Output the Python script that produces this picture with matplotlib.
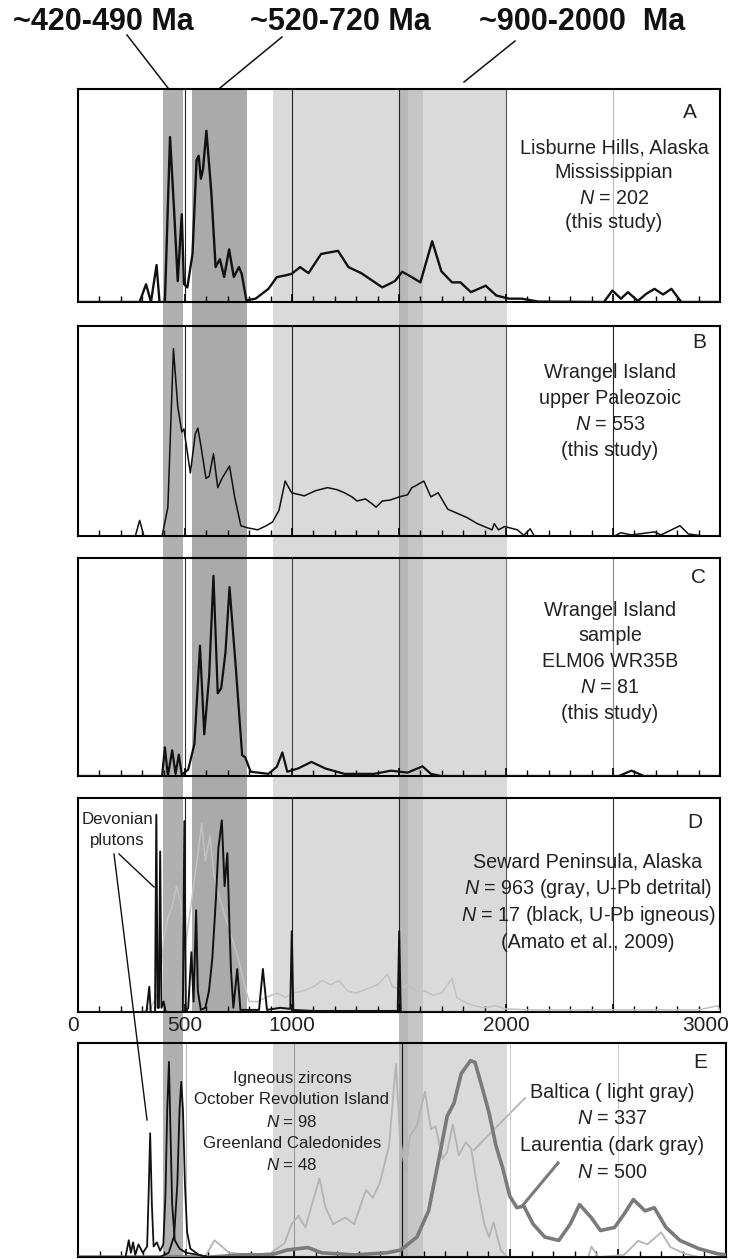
import matplotlib
matplotlib.use("Agg")
import matplotlib.pyplot as plt
import matplotlib.transforms as mtransforms
from matplotlib.lines import Line2D
from matplotlib.patches import Rectangle
from matplotlib.ticker import FixedLocator, FixedFormatter, MultipleLocator

plt.rcParams['font.family'] = ['Liberation Sans', 'DejaVu Sans']
plt.rcParams['mathtext.fontset'] = 'custom'
plt.rcParams['mathtext.it'] = 'Liberation Sans:italic'
plt.rcParams['mathtext.rm'] = 'Liberation Sans'

# ---------------- data (age in Ma, relative probability 0-1) ----------------
# A: Lisburne Hills, Alaska, Mississippian
a_age = [0, 288, 318, 341, 367, 381, 406, 430, 450, 466, 485, 495, 511, 535, 554, 564, 574,
         584, 600, 623, 643, 663, 683, 706, 728, 752, 765, 787, 830, 890, 929, 968, 998,
         1038, 1077, 1136, 1215, 1264, 1324, 1422, 1481, 1515, 1560, 1600, 1655, 1698,
         1748, 1787, 1836, 1905, 1955, 2014, 2073, 2152, 2458, 2497, 2537, 2570, 2616,
         2655, 2694, 2734, 2773, 2819, 3000]
a_prob = [0, 0, 0.085, 0, 0.177, 0, 0, 0.79, 0.42, 0.10, 0.42, 0.086, 0.07, 0.23, 0.68, 0.70,
          0.59, 0.635, 0.82, 0.525, 0.167, 0.205, 0.12, 0.252, 0.12, 0.167, 0.135, 0.008,
          0.016, 0.063, 0.119, 0.127, 0.135, 0.167, 0.138, 0.23, 0.245, 0.167, 0.138, 0.07,
          0.10, 0.145, 0.119, 0.094, 0.291, 0.147, 0.094, 0.094, 0.047, 0.078, 0.031, 0.016,
          0.016, 0.002, 0, 0.055, 0.016, 0.047, 0.005, 0.039, 0.063, 0.036, 0.063, 0, 0]

# B: Wrangel Island, upper Paleozoic
b_age = [0, 268, 288, 308, 393, 420, 446, 466, 485, 495, 525, 548, 560, 574, 598, 613, 633,
         653, 673, 708, 732, 761, 791, 840, 880, 909, 939, 968, 998, 1057, 1110, 1166, 1210,
         1245, 1280, 1304, 1343, 1370, 1393, 1422, 1460, 1501, 1540, 1560, 1576, 1616, 1649,
         1683, 1728, 1777, 1817, 1866, 1935, 1945, 1965, 1994, 2053, 2083, 2113, 2132, 2507,
         2537, 2586, 2694, 2724, 2813, 2852, 2921, 3000]
b_prob = [0, 0, 0.076, 0, 0, 0.14, 0.91, 0.63, 0.505, 0.52, 0.306, 0.495, 0.524, 0.44, 0.28,
          0.29, 0.40, 0.235, 0.28, 0.34, 0.19, 0.05, 0.04, 0.03, 0.05, 0.068, 0.124, 0.267,
          0.21, 0.195, 0.22, 0.235, 0.225, 0.21, 0.19, 0.17, 0.18, 0.16, 0.14, 0.17, 0.175,
          0.19, 0.20, 0.235, 0.243, 0.267, 0.19, 0.21, 0.13, 0.108, 0.09, 0.06, 0.03, 0.06,
          0.03, 0.046, 0.03, 0.003, 0.035, 0, 0, 0.016, 0.005, 0.02, 0.005, 0.05, 0.01, 0, 0]

# C: Wrangel Island sample ELM06 WR35B
c_age = [0, 393, 406, 420, 440, 456, 471, 485, 515, 544, 570, 590, 613, 633, 653, 669, 689,
         708, 738, 767, 781, 807, 890, 929, 955, 978, 1028, 1091, 1156, 1245, 1383, 1462,
         1540, 1610, 1649, 1698, 2527, 2586, 2645, 3000]
c_prob = [0, 0, 0.134, 0, 0.12, 0.01, 0.10, 0.006, 0.03, 0.15, 0.609, 0.195, 0.47, 0.937,
          0.387, 0.41, 0.577, 0.884, 0.50, 0.097, 0.088, 0.02, 0.01, 0.043, 0.11, 0.02,
          0.035, 0.066, 0.035, 0.01, 0.01, 0.025, 0.016, 0.045, 0.01, 0, 0, 0.025, 0, 0]

# D: Seward Peninsula, detrital (gray)
d_det_age = [0, 300, 340, 380, 400, 420, 440, 460, 480, 500, 520, 540, 560, 578, 595, 617,
             635, 660, 690, 720, 750, 780, 800, 840, 880, 930, 970, 1000, 1050, 1100, 1140,
             1180, 1220, 1260, 1300, 1350, 1400, 1446, 1470, 1500, 1540, 1580, 1620, 1660,
             1700, 1747, 1770, 1800, 1850, 1900, 1950, 2000, 2100, 2500, 2700, 2900, 2990, 3000]
d_det_prob = [0, 0, 0.02, 0.10, 0.35, 0.45, 0.50, 0.60, 0.52, 0.30, 0.45, 0.60, 0.75, 0.90,
              0.72, 0.84, 0.65, 0.55, 0.45, 0.35, 0.25, 0.12, 0.05, 0.05, 0.07, 0.09, 0.07,
              0.09, 0.10, 0.12, 0.15, 0.13, 0.15, 0.10, 0.09, 0.11, 0.13, 0.18, 0.12, 0.11,
              0.13, 0.10, 0.10, 0.08, 0.09, 0.16, 0.07, 0.05, 0.03, 0.02, 0.03, 0.015, 0.01,
              0.01, 0.01, 0.01, 0.03, 0]

# D: Seward Peninsula, igneous (black)
d_ign_age = [0, 320, 333, 340, 360, 366, 372, 378, 384, 390, 400, 410, 490, 497, 504, 515,
             530, 540, 552, 560, 574, 595, 612, 628, 645, 656, 672, 685, 698, 708, 715, 726,
             744, 759, 846, 864, 883, 944, 992, 999, 1006, 1100, 1494, 1501, 1508, 1600, 3000]
d_ign_prob = [0, 0, 0.12, 0, 0, 0.94, 0.02, 0.02, 0.765, 0.02, 0.05, 0, 0, 0.91, 0, 0.02,
              0.285, 0.05, 0.485, 0.10, 0.01, 0.02, 0.10, 0.26, 0.55, 0.78, 0.913, 0.60,
              0.757, 0.40, 0.197, 0.02, 0.205, 0.01, 0.01, 0.205, 0.01, 0.02, 0.015, 0.385,
              0.01, 0.005, 0.005, 0.385, 0, 0, 0]

# E: October Revolution Island igneous zircons (black)
e_ori_age = [0, 220, 235, 245, 255, 265, 280, 300, 320, 327, 334, 342, 350, 365, 380, 395,
             405, 413, 421, 428, 436, 448, 470, 500, 560, 600, 3000]
e_ori_prob = [0, 0, 0.08, 0.02, 0.07, 0.01, 0.06, 0.02, 0.05, 0.30, 0.59, 0.25, 0.05, 0.07,
              0.03, 0.06, 0.30, 0.70, 0.93, 0.60, 0.25, 0.08, 0.04, 0.02, 0.01, 0, 0]

# E: Greenland Caledonides (black)
e_grc_age = [0, 380, 420, 445, 460, 470, 478, 486, 495, 505, 520, 560, 600, 3000]
e_grc_prob = [0, 0, 0.02, 0.10, 0.35, 0.70, 0.835, 0.70, 0.35, 0.12, 0.04, 0.01, 0, 0]

# E: Baltica (light gray)
e_bal_age = [0, 588, 632, 700, 810, 893, 956, 989, 1021, 1053, 1081, 1118, 1146, 1182, 1236,
             1279, 1333, 1365, 1397, 1440, 1472, 1490, 1515, 1537, 1569, 1606, 1634, 1655,
             1688, 1709, 1735, 1763, 1795, 1821, 1849, 1881, 1903, 1924, 1957, 1989, 2362,
             2377, 2409, 2528, 2593, 2636, 2700, 2743, 2808, 2872, 3000]
e_bal_prob = [0, 0, 0.08, 0.02, 0.01, 0.02, 0.065, 0.157, 0.196, 0.141, 0.243, 0.375, 0.235,
              0.157, 0.188, 0.157, 0.32, 0.282, 0.352, 0.53, 0.92, 0.578, 0.406, 0.578, 0.624,
              0.788, 0.609, 0.624, 0.469, 0.50, 0.632, 0.485, 0.547, 0.516, 0.329, 0.157,
              0.095, 0.165, 0.033, 0, 0, 0.05, 0, 0.01, 0.077, 0.06, 0.118, 0.047, 0.016, 0, 0]

# E: Laurentia (dark gray)
e_lau_age = [0, 611, 763, 893, 967, 1064, 1128, 1279, 1430, 1494, 1569, 1623, 1677, 1709,
             1741, 1774, 1817, 1838, 1870, 1903, 1935, 1967, 1999, 2032, 2064, 2107, 2161,
             2226, 2279, 2322, 2376, 2419, 2484, 2528, 2571, 2625, 2668, 2722, 2787, 2873,
             2959, 3000]
e_lau_prob = [0, 0, 0.01, 0.01, 0.033, 0.045, 0.02, 0.01, 0.02, 0.033, 0.095, 0.22, 0.50,
              0.671, 0.734, 0.874, 0.936, 0.928, 0.812, 0.687, 0.53, 0.421, 0.29, 0.235,
              0.243, 0.157, 0.095, 0.079, 0.157, 0.25, 0.188, 0.126, 0.141, 0.204, 0.274,
              0.22, 0.235, 0.141, 0.079, 0.04, 0.016, 0.01]

# Highlighted age windows (Ma)
win_early = (395, 490)
win_mid = (535, 790)
win_broad = (910, 2005)
win_meso = (1500, 1610)

tick_values = [0, 500, 1000, 1500, 2000, 2500, 3000]
tick_labels = ['0', '500', '1000', '', '2000', '', '3000']

# ---------------- figure layout (pixel helpers) ----------------
W, H = 732, 1260
fig = plt.figure(figsize=(W / 100, H / 100), dpi=100)
fig.patch.set_facecolor('white')


def box(left, right, top, bottom):
    return [left / W, 1 - bottom / H, (right - left) / W, (bottom - top) / H]


def ftext(x, y, s, **kw):
    fig.text(x / W, 1 - y / H, s, **kw)


def fline(x0, y0, x1, y1, **kw):
    fig.add_artist(Line2D([x0 / W, x1 / W], [1 - y0 / H, 1 - y1 / H],
                          transform=fig.transFigure, **kw))


# Background layer holding the shaded age windows across all panels
bg = fig.add_axes([0, 0, 1, 1], zorder=0)
bg.set_xlim(-78 / 0.214, (W - 78) / 0.214)
bg.set_ylim(H, 0)
bg.axis('off')


def band(span, top, bottom, color):
    bg.add_patch(Rectangle((span[0], top), span[1] - span[0], bottom - top,
                           facecolor=color, edgecolor='none'))


band(win_broad, 89, 1012, '#dadada')
band(win_broad, 1043, 1257, '#dadada')
band(win_early, 89, 1257, '#b0b0b0')
band(win_mid, 89, 1012, '#aaaaaa')
band((win_meso[0], win_meso[0] + 40), 89, 1257, '#b8b8b8')
band((win_meso[0] + 40, win_meso[1]), 89, 1257, '#c6c6c6')

panels = [
    ('A', box(78, 720, 89, 302)),
    ('B', box(78, 720, 326, 536)),
    ('C', box(78, 720, 558, 776)),
    ('D', box(78, 720, 798, 1012)),
    ('E', box(78, 726, 1043, 1257)),
]
grid_colors = {
    'A': ['#222222', '#222222', '#222222', '#555555', '#bbbbbb'],
    'B': ['#222222', '#222222', '#222222', '#555555', '#222222'],
    'C': ['#333333', '#444444', '#666666', '#777777', '#888888'],
    'D': ['#222222', '#222222', '#222222', '#555555', '#333333'],
    'E': ['#bbbbbb', '#999999', '#111111', '#cccccc', '#cccccc'],
}

axes = {}
for name, pos in panels:
    ax = fig.add_axes(pos, zorder=2)
    ax.set_facecolor('none')
    ax.set_xlim(0, 3000)
    ax.set_ylim(0, 1.02)
    for xv, col in zip([500, 1000, 1500, 2000, 2500], grid_colors[name]):
        ax.axvline(xv, color=col, lw=0.8, zorder=1)
    for sp in ax.spines.values():
        sp.set_linewidth(1.5)
        sp.set_color('black')
    ax.yaxis.set_visible(False)
    ax.xaxis.set_major_locator(FixedLocator(tick_values))
    ax.xaxis.set_minor_locator(MultipleLocator(100))
    ax.tick_params(axis='x', which='major', direction='in', length=6, width=1.2,
                   labelsize=15, pad=3, top=False, labelcolor='#222222')
    ax.tick_params(axis='x', which='minor', direction='in', length=4, width=1, top=False)
    if name == 'D':
        ax.xaxis.set_major_formatter(FixedFormatter(tick_labels))
    else:
        ax.tick_params(axis='x', which='major', labelbottom=False)
    axes[name] = ax

# keep the end labels of the shared age axis inside the figure
fig.canvas.draw()
d_labels = axes['D'].get_xticklabels()
d_labels[0].set_transform(d_labels[0].get_transform() +
                          mtransforms.ScaledTranslation(-5 / 100, 0, fig.dpi_scale_trans))
d_labels[-1].set_horizontalalignment('right')
d_labels[-1].set_transform(d_labels[-1].get_transform() +
                           mtransforms.ScaledTranslation(9 / 100, 0, fig.dpi_scale_trans))

axes['A'].plot(a_age, a_prob, color='#111111', lw=1.7, zorder=3)
axes['B'].plot(b_age, b_prob, color='#111111', lw=1.1, zorder=3)
axes['C'].plot(c_age, c_prob, color='#111111', lw=1.6, zorder=3)
axes['D'].plot(d_det_age, d_det_prob, color='#c2c2c2', lw=1.1, zorder=3)
axes['D'].plot(d_ign_age, d_ign_prob, color='#111111', lw=1.4, zorder=4)
axes['E'].plot(e_bal_age, e_bal_prob, color='#b4b4b4', lw=1.3, zorder=3)
axes['E'].plot(e_lau_age, e_lau_prob, color='#7a7a7a', lw=2.6, zorder=3)
axes['E'].plot(e_ori_age, e_ori_prob, color='#111111', lw=1.3, zorder=4)
axes['E'].plot(e_grc_age, e_grc_prob, color='#111111', lw=1.3, zorder=4)

# ---------------- annotations ----------------
tkw = dict(ha='center', va='center', color='#222222', fontsize=14.2, zorder=5)
Nit = r'$\mathit{N}$'

for lbl, (x, y) in zip('ABCDE', [(690, 113), (699, 343), (699, 578), (695, 822), (700, 1063)]):
    ftext(x, y, lbl, **dict(tkw, fontsize=15))

for i, s in enumerate(['Lisburne Hills, Alaska', 'Mississippian', Nit + ' = 202', '(this study)']):
    ftext(614, 148 + i * 25, s, **tkw)
for i, s in enumerate(['Wrangel Island', 'upper Paleozoic', Nit + ' = 553', '(this study)']):
    ftext(610, 372 + i * 26, s, **tkw)
for i, s in enumerate(['Wrangel Island', 'sample', 'ELM06 WR35B', Nit + ' = 81', '(this study)']):
    ftext(610, 610 + i * 25.8, s, **tkw)
for i, s in enumerate(['Seward Peninsula, Alaska', Nit + ' = 963 (gray, U-Pb detrital)',
                       Nit + ' = 17 (black, U-Pb igneous)', '(Amato et al., 2009)']):
    ftext(588, 862 + i * 26.8, s, **tkw)

skw = dict(tkw, fontsize=12.2)
ftext(117, 820, 'Devonian', **skw)
ftext(117, 841, 'plutons', **skw)
fline(119, 854, 154, 887, color='#111111', lw=1)
fline(114, 854, 147, 1120, color='#111111', lw=1)

for i, s in enumerate(['Igneous zircons', 'October Revolution Island', Nit + ' = 98',
                       'Greenland Caledonides', Nit + ' = 48']):
    ftext(292, 1078 + i * 21.8, s, **skw)
for i, s in enumerate(['Baltica ( light gray)', Nit + ' = 337', 'Laurentia (dark gray)',
                       Nit + ' = 500']):
    ftext(612, 1092 + i * 26.7, s, **tkw)
fline(525, 1098, 474, 1150, color='#b4b4b4', lw=1.3)
fline(558, 1163, 523, 1205, color='#7a7a7a', lw=2.2)

hkw = dict(ha='center', va='center', color='#111111', fontsize=22, fontweight='bold')
ftext(103, 22, '~420-490 Ma', **hkw)
ftext(340, 22, '~520-720 Ma', **hkw)
ftext(582, 22, '~900-2000  Ma', **hkw)
fline(127, 35, 168, 88, color='#111111', lw=1.1)
fline(282, 37, 220, 88, color='#111111', lw=1.1)
fline(515, 41, 464, 82, color='#111111', lw=1.1)

fig.savefig('out.png', dpi=100, facecolor='white')
